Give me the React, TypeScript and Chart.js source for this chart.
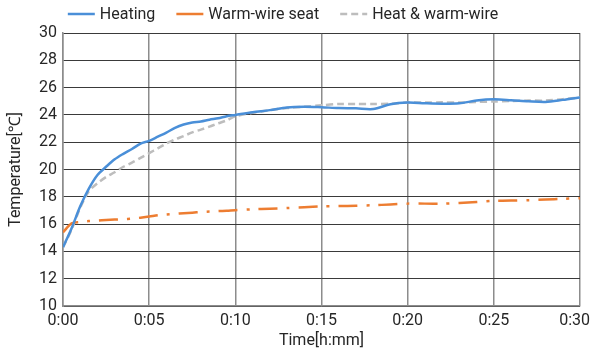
import { useEffect, useRef } from "react";
import { Chart, registerables } from "chart.js";

Chart.register(...registerables);

const timeMinutes = [
  0, 0.5, 1, 1.5, 2, 2.5, 3, 3.5, 4, 4.5, 5, 5.5, 6, 6.5, 7, 7.5, 8, 8.5, 9, 9.5,
  10, 11, 12, 13, 14, 15, 16, 17, 18, 19, 20, 21, 22, 23, 24, 25, 26, 27, 28, 29, 30,
];

const heatingTemps = [
  14.3, 15.7, 17.3, 18.6, 19.6, 20.2, 20.75, 21.15, 21.5, 21.9, 22.1, 22.4, 22.7, 23.05, 23.3, 23.45, 23.52, 23.65, 23.75, 23.9,
  24.0, 24.2, 24.35, 24.55, 24.6, 24.56, 24.5, 24.48, 24.43, 24.78, 24.9, 24.85, 24.82, 24.85, 25.05, 25.14, 25.08, 25.0, 24.95, 25.1, 25.28,
];

const warmWireTemps = [
  15.4, 16.05, 16.15, 16.22, 16.26, 16.3, 16.33, 16.36, 16.4, 16.47, 16.55, 16.65, 16.7, 16.75, 16.8, 16.84, 16.88, 16.92, 16.95, 16.98,
  17.02, 17.08, 17.13, 17.18, 17.24, 17.3, 17.32, 17.35, 17.38, 17.44, 17.5, 17.5, 17.5, 17.55, 17.62, 17.7, 17.72, 17.75, 17.8, 17.85, 17.9,
];

const heatWarmTemps = [
  14.3, 15.6, 17.2, 18.4, 19.0, 19.45, 19.8, 20.2, 20.5, 20.85, 21.2, 21.55, 21.9, 22.2, 22.45, 22.72, 22.92, 23.14, 23.38, 23.6,
  23.9, 24.15, 24.35, 24.5, 24.6, 24.7, 24.8, 24.8, 24.8, 24.82, 24.9, 24.9, 24.92, 24.9, 24.95, 24.98, 25.02, 25.05, 25.05, 25.15, 25.28,
];

const seriesLabels = ["Heating", "Warm-wire seat", "Heat & warm-wire"];
const seriesColors = ["#4a8fd8", "#ed7d31", "#bdbdbd"];
const yTicks = [10, 12, 14, 16, 18, 20, 22, 24, 26, 28, 30];
const xTickMinutes = [0, 5, 10, 15, 20, 25, 30];

const FONT = "Roboto, 'Noto Sans', sans-serif";
const TEXT = "#262626";

function fmtTime(m: number): string {
  const h = Math.floor(m / 60);
  const mm = m % 60;
  return `${h}:${mm < 10 ? "0" : ""}${mm}`;
}

const legendDash: number[][] = [[], [], [7, 4]];

const topLegend = {
  id: "topLegend",
  afterDraw(chart: any) {
    const ctx = chart.ctx as CanvasRenderingContext2D;
    ctx.save();
    ctx.font = `16px ${FONT}`;
    ctx.textBaseline = "middle";
    ctx.fillStyle = TEXT;
    const lineLen = 27;
    const textGap = 5;
    const itemGap = 21;
    const widths = seriesLabels.map((l) => lineLen + textGap + ctx.measureText(l).width);
    const total = widths.reduce((a, b) => a + b, 0) + itemGap * (widths.length - 1);
    let x = 283 - total / 2;
    const y = 14;
    seriesLabels.forEach((label, i) => {
      ctx.beginPath();
      ctx.setLineDash(legendDash[i]);
      ctx.strokeStyle = seriesColors[i];
      ctx.lineWidth = 2.5;
      ctx.moveTo(x, y);
      ctx.lineTo(x + lineLen, y);
      ctx.stroke();
      ctx.setLineDash([]);
      ctx.fillStyle = TEXT;
      ctx.fillText(label, x + lineLen + textGap, y + 1);
      x += widths[i] + itemGap;
    });
    ctx.restore();
  },
};

// keep the last x tick label inside the canvas (as the original does)
const keepLastLabelInside = {
  id: "keepLastLabelInside",
  beforeDraw(chart: any) {
    const scale = chart.scales.x;
    if (!scale) return;
    const items = scale.getLabelItems(chart.chartArea);
    if (!items || !items.length) return;
    const last = items[items.length - 1];
    const ctx = chart.ctx as CanvasRenderingContext2D;
    ctx.save();
    ctx.font = last.font.string;
    const w = ctx.measureText(String(last.label)).width;
    ctx.restore();
    const limit = chart.width - 1;
    const tx = last.options.translation[0];
    if (tx + w / 2 > limit) {
      last.options.translation = [limit - w / 2, last.options.translation[1]];
    }
  },
};

export default function App() {
  const ref = useRef<HTMLCanvasElement | null>(null);

  useEffect(() => {
    if (!ref.current) return;
    const pts = (vals: number[]) => timeMinutes.map((t, i) => ({ x: t, y: vals[i] }));
    const chart = new Chart(ref.current, {
      type: "line",
      data: {
        datasets: [
          {
            label: seriesLabels[0],
            data: pts(heatingTemps),
            borderColor: seriesColors[0],
            borderWidth: 2.5,
            pointRadius: 0,
            tension: 0.3,
          },
          {
            label: seriesLabels[1],
            data: pts(warmWireTemps),
            borderColor: seriesColors[1],
            borderWidth: 2.5,
            borderDash: [19, 9, 3, 9],
            pointRadius: 0,
            tension: 0.3,
          },
          {
            label: seriesLabels[2],
            data: pts(heatWarmTemps),
            borderColor: seriesColors[2],
            borderWidth: 2.5,
            borderDash: [7, 4],
            pointRadius: 0,
            tension: 0.3,
          },
        ],
      },
      plugins: [topLegend, keepLastLabelInside],
      options: {
        animation: false,
        responsive: false,
        maintainAspectRatio: false,
        layout: { padding: { left: 0, right: 0, top: 33, bottom: 0 } },
        plugins: {
          legend: { display: false },
          tooltip: { enabled: false },
        },
        scales: {
          x: {
            type: "linear",
            min: 0,
            max: 30,
            afterBuildTicks: (scale: any) => {
              scale.ticks = xTickMinutes.map((v) => ({ value: v }));
            },
            afterFit: (scale: any) => {
              scale.height = 57;
              scale.paddingRight = 11;
              scale.paddingLeft = 0;
            },
            ticks: {
              callback: (v: any) => fmtTime(Number(v)),
              font: { family: FONT, size: 16 },
              color: TEXT,
              padding: 5,
              maxRotation: 0,
            },
            grid: { color: "#8c8c8c", lineWidth: 1.5, drawTicks: false },
            border: { color: "#8c8c8c", width: 1.5 },
            title: {
              display: true,
              text: "Time[h:mm]",
              font: { family: FONT, size: 16 },
              color: TEXT,
              padding: { top: 0, bottom: 12 },
            },
          },
          y: {
            min: 10,
            max: 30,
            afterBuildTicks: (scale: any) => {
              scale.ticks = yTicks.map((v) => ({ value: v }));
            },
            afterFit: (scale: any) => {
              scale.width = 63;
            },
            ticks: {
              font: { family: FONT, size: 16 },
              color: TEXT,
              padding: 6,
            },
            grid: { color: "#3a3a3a", lineWidth: 1, drawTicks: false },
            border: { color: "#8c8c8c", width: 1.5 },
            title: {
              display: true,
              text: "Temperature[℃]",
              font: { family: FONT, size: 16 },
              color: TEXT,
              padding: { top: 6, bottom: 0 },
            },
          },
        },
      },
    });
    return () => chart.destroy();
  }, []);

  return (
    <div style={{ position: "fixed", left: 0, top: 0, width: 591, height: 363, background: "#fff" }}>
      <canvas ref={ref} width={591} height={363} style={{ width: 591, height: 363 }} />
    </div>
  );
}
